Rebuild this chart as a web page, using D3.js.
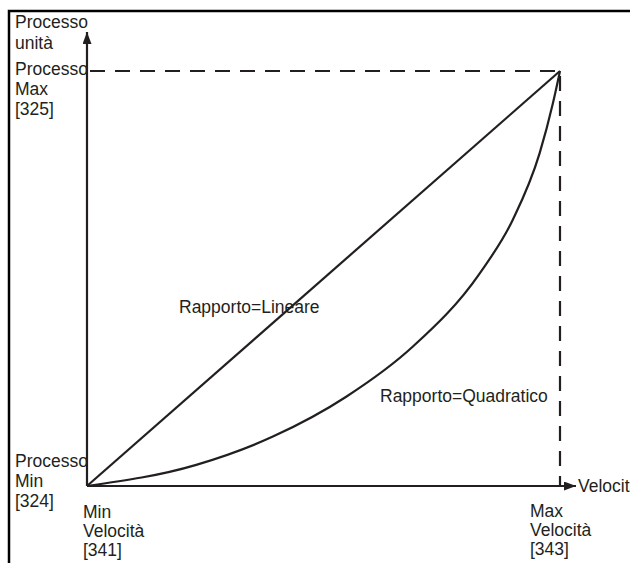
<!DOCTYPE html>
<html>
<head>
<meta charset="utf-8">
<script src="https://cdn.jsdelivr.net/npm/d3@7"></script>
<style>
  body { margin: 0; background: #fff; }
  svg { display: block; }
  text { font-family: "Liberation Sans", Arial, sans-serif; font-size: 17.5px; fill: #231f20; }
</style>
</head>
<body>
<svg id="chart" width="630" height="563"></svg>
<script>
// normalised speed (0 = Min Velocità, 1 = Max Velocità)
var quadSpeed = [0, 0.231, 0.393, 0.548, 0.689, 0.830, 0.900, 0.957, 0.985, 1];
// normalised process value
var quadProcess = [0, 0.051, 0.119, 0.215, 0.336, 0.512, 0.641, 0.802, 0.922, 1];
var linSpeed = [0, 1];
var linProcess = [0, 1];

var yTitle = ["Processo", "unità"];
var yMaxLabel = ["Processo", "Max", "[325]"];
var yMinLabel = ["Processo", "Min", "[324]"];
var xMinLabel = ["Min", "Velocità", "[341]"];
var xMaxLabel = ["Max", "Velocità", "[343]"];
var xTitle = "Velocità";
var linLabel = "Rapporto=Lineare";
var quadLabel = "Rapporto=Quadratico";

var ink = "#231f20";
var svg = d3.select("#chart");

var x = d3.scaleLinear().domain([0, 1]).range([87, 560]);
var y = d3.scaleLinear().domain([0, 1]).range([486, 71]);

// frame (top and left rule)
svg.append("path")
    .attr("d", "M9,563V11H630")
    .attr("fill", "none")
    .attr("stroke", "#000")
    .attr("stroke-width", 2.5);

var defs = svg.append("defs");
defs.append("marker")
    .attr("id", "arrow")
    .attr("viewBox", "0 0 12 9")
    .attr("refX", 12).attr("refY", 4.5)
    .attr("markerWidth", 12).attr("markerHeight", 9)
    .attr("markerUnits", "userSpaceOnUse")
    .attr("orient", "auto")
    .append("path")
    .attr("d", "M0,0L12,4.5L0,9Z")
    .attr("fill", ink);

// axes
svg.append("line")
    .attr("x1", x(0)).attr("y1", y(0))
    .attr("x2", x(0)).attr("y2", 32)
    .attr("stroke", ink).attr("stroke-width", 2.2)
    .attr("marker-end", "url(#arrow)");
svg.append("line")
    .attr("x1", x(0)).attr("y1", y(0))
    .attr("x2", 576).attr("y2", y(0))
    .attr("stroke", ink).attr("stroke-width", 2.2)
    .attr("marker-end", "url(#arrow)");

// dashed max guides
svg.append("path")
    .attr("d", "M" + x(0) + "," + y(1) + "H" + x(1) + "V" + y(0))
    .attr("fill", "none")
    .attr("stroke", ink).attr("stroke-width", 2.2)
    .attr("stroke-dasharray", "15,10")
    .attr("stroke-dashoffset", -3);

var line = d3.line()
    .x(function (d) { return x(d[0]); })
    .y(function (d) { return y(d[1]); });

svg.append("path")
    .datum(d3.zip(linSpeed, linProcess))
    .attr("d", line)
    .attr("fill", "none")
    .attr("stroke", ink).attr("stroke-width", 2.2);

svg.append("path")
    .datum(d3.zip(quadSpeed, quadProcess))
    .attr("d", line.curve(d3.curveMonotoneX))
    .attr("fill", "none")
    .attr("stroke", ink).attr("stroke-width", 2.2);

function block(lines, px, py, step) {
    var t = svg.append("text").attr("x", px).attr("y", py);
    lines.forEach(function (s, i) {
        t.append("tspan").attr("x", px).attr("dy", i ? step : 0).text(s);
    });
}

block(yTitle, 15, 28, 21);
block(yMaxLabel, 15, y(1) + 4, 20);
block(yMinLabel, 15, y(0) - 19, 20);
block(xMinLabel, x(0) - 4, y(0) + 32, 19);
block(xMaxLabel, x(1) - 30, y(0) + 31, 19);

svg.append("text").attr("x", 578).attr("y", y(0) + 6).text(xTitle);
svg.append("text").attr("x", 179).attr("y", 313).text(linLabel);
svg.append("text").attr("x", 380).attr("y", 402).text(quadLabel);
</script>
</body>
</html>
